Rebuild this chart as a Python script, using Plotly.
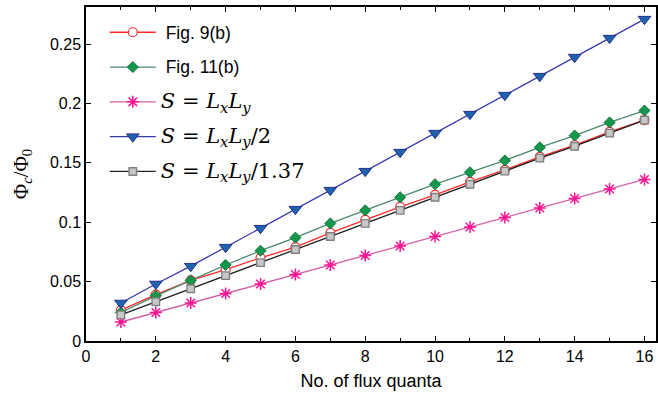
import plotly.graph_objects as go

# Number of flux quanta
n_flux = list(range(1, 17))

# Critical flux Phi_c / Phi_0 for each case
fig9b = [0.026, 0.039, 0.051, 0.060, 0.070, 0.079, 0.091, 0.102,
         0.113, 0.123, 0.134, 0.144, 0.155, 0.165, 0.176, 0.186]
fig11b = [0.024, 0.038, 0.051, 0.064, 0.076, 0.087, 0.099, 0.110,
          0.121, 0.132, 0.142, 0.152, 0.163, 0.173, 0.184, 0.194]
s_full = [0.016, 0.024, 0.032, 0.040, 0.048, 0.056, 0.064, 0.072,
          0.080, 0.088, 0.096, 0.104, 0.112, 0.120, 0.128, 0.136]
s_half = [0.032, 0.048, 0.063, 0.079, 0.095, 0.111, 0.127, 0.143,
          0.159, 0.175, 0.191, 0.207, 0.223, 0.239, 0.255, 0.271]
s_137 = [0.022, 0.033, 0.044, 0.055, 0.066, 0.077, 0.088, 0.099,
         0.110, 0.121, 0.132, 0.143, 0.154, 0.164, 0.175, 0.186]

x_ticks = [0, 2, 4, 6, 8, 10, 12, 14, 16]
y_ticks = [0, 0.05, 0.1, 0.15, 0.2, 0.25]
y_ticklabels = ["0", "0.05", "0.1", "0.15", "0.2", "0.25"]

SANS = "Liberation Sans, Arial, sans-serif"
SERIF = "DejaVu Serif, serif"


def sans_label(t):
    return f'<span style="font-family:{SANS};font-size:17.5px">&nbsp;{t}</span>'


def math_label(t):
    return f'<span style="font-family:{SERIF};font-size:21px">{t}</span>'


series = [
    dict(y=fig9b, name=sans_label("Fig. 9(b)"), line="#ff2a2a",
         marker=dict(symbol="circle", size=9, color="white",
                     line=dict(color="#ff2a2a", width=1.2))),
    dict(y=fig11b, name=sans_label("Fig. 11(b)"), line="#4a8a68",
         marker=dict(symbol="diamond", size=8.5, color="#12984a",
                     line=dict(color="#1a7040", width=1))),
    dict(y=s_full, name=math_label("<i>S</i> = <i>L<sub>x</sub>L<sub>y</sub></i>"), line="#d060a8",
         marker=dict(symbol="asterisk-open", size=10, color="#ff1493",
                     line=dict(color="#ff1493", width=1.5))),
    dict(y=s_half, name=math_label("<i>S</i> = <i>L<sub>x</sub>L<sub>y</sub></i>/2"), line="#3838b0",
         marker=dict(symbol="triangle-down", size=11, color="#1f63b0",
                     line=dict(color="#23308a", width=1))),
    dict(y=s_137, name=math_label("<i>S</i> = <i>L<sub>x</sub>L<sub>y</sub></i>/1.37"), line="#202020",
         marker=dict(symbol="square", size=7.5, color="#c8c8c8",
                     line=dict(color="#808080", width=1.4))),
]

fig = go.Figure()
for i, s in enumerate(series):
    fig.add_trace(go.Scatter(
        x=n_flux, y=s["y"], name=s["name"], mode="lines+markers",
        legendgroup=f"g{i}",
        line=dict(color=s["line"], width=1.3), marker=s["marker"],
    ))

axis_common = dict(
    showline=True, linecolor="black", linewidth=1.5, mirror="ticks",
    ticks="inside", ticklen=5, tickwidth=1.2, tickcolor="black",
    showgrid=False, zeroline=False,
    tickfont=dict(family=SANS, size=16, color="black"),
)

fig.update_xaxes(
    range=[0, 16.33], tickvals=x_ticks,
    minor=dict(tickvals=[1, 3, 5, 7, 9, 11, 13, 15], ticks="inside",
               ticklen=3, tickwidth=1, tickcolor="black"),
    title=dict(text="No. of flux quanta", font=dict(family=SANS, size=18, color="black"),
               standoff=10),
    **axis_common,
)
fig.update_yaxes(
    range=[0, 0.2812], tickvals=y_ticks, ticktext=y_ticklabels,
    title=dict(text="Φ<sub><i>c</i></sub>/Φ<sub>0</sub>",
               font=dict(family="Liberation Serif, serif", size=21, color="black"),
               standoff=16),
    **axis_common,
)

fig.update_layout(
    width=658, height=394,
    margin=dict(l=86, r=0, t=7, b=53),
    plot_bgcolor="white", paper_bgcolor="white",
    legend=dict(x=0.033, y=0.975, xanchor="left", yanchor="top",
                bgcolor="rgba(0,0,0,0)", borderwidth=0,
                itemwidth=46, tracegroupgap=11,
                font=dict(family=SANS, size=16, color="black")),
    showlegend=True,
)

fig.write_html("out.html")
